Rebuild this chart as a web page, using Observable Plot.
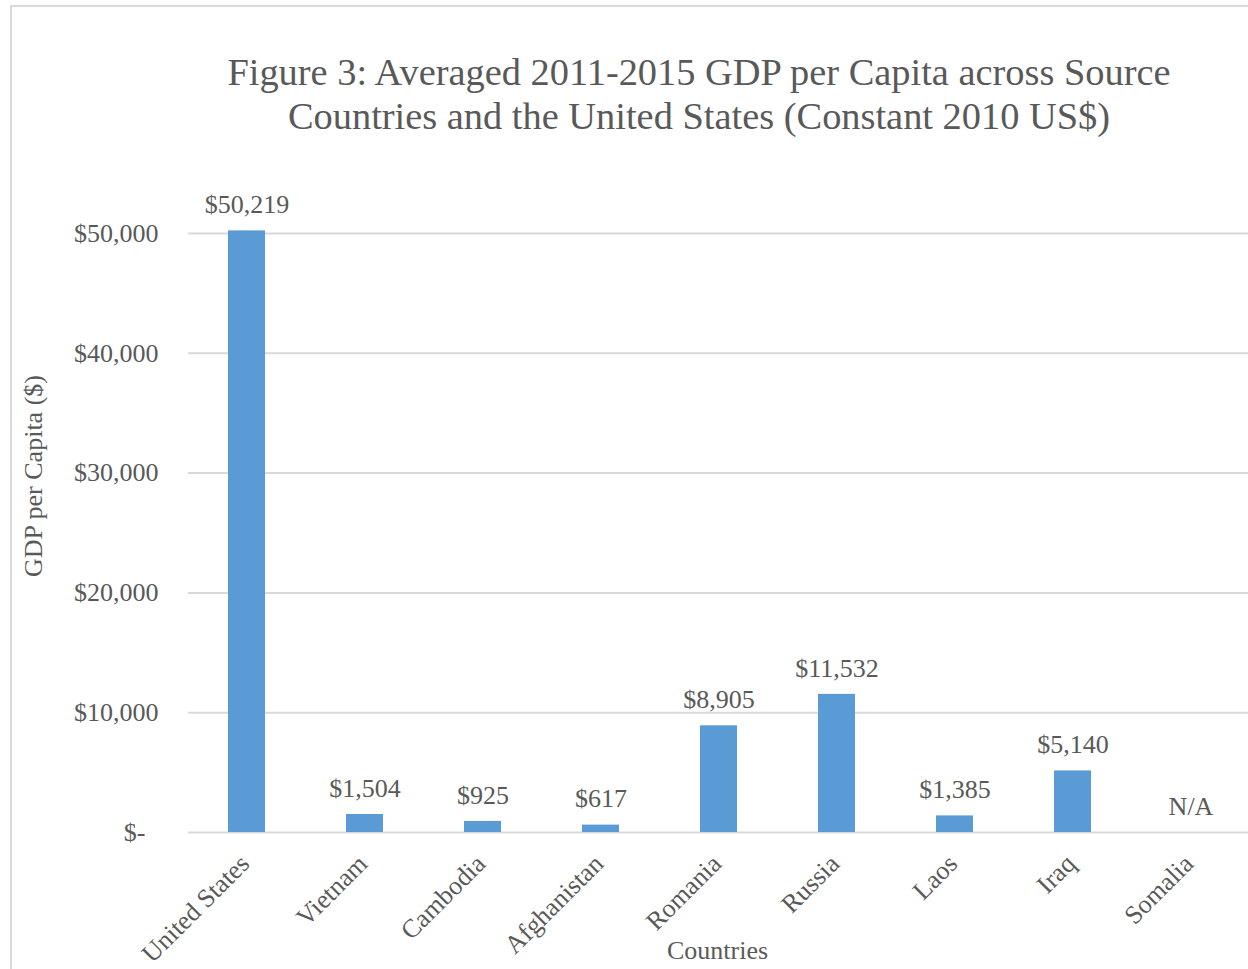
<!DOCTYPE html>
<html>
<head>
<meta charset="utf-8">
<script src="https://cdn.jsdelivr.net/npm/d3@7"></script>
<script src="https://cdn.jsdelivr.net/npm/@observablehq/plot@0.6"></script>
<style>
  html, body { margin: 0; padding: 0; background: #fff; }
  #wrap { position: relative; width: 1248px; height: 969px; overflow: hidden; font-family: "Liberation Serif", "Times New Roman", serif; }
  #border { position: absolute; left: 10px; top: 5px; width: 1300px; height: 1000px; border: 2px solid #d9d9d9; box-sizing: border-box; }
  #title { position: absolute; left: 0; top: 50px; width: 1398px; text-align: center; font-size: 38.4px; line-height: 44px; color: #595959; }
  #chart { position: absolute; left: 0; top: 0; }
</style>
</head>
<body>
<div id="wrap">
  <div id="border"></div>
  <div id="chart"></div>
  <div id="title">Figure 3: Averaged 2011-2015 GDP per Capita across Source<br>Countries and the United States (Constant 2010 US$)</div>
</div>
<script>
const countries = ["United States", "Vietnam", "Cambodia", "Afghanistan", "Romania", "Russia", "Laos", "Iraq", "Somalia"];
const gdp = [50219, 1504, 925, 617, 8905, 11532, 1385, 5140, null];
const yTicks = [0, 10000, 20000, 30000, 40000, 50000];

const fmt = d3.format(",");
const data = countries.map((c, i) => ({
  country: c,
  value: gdp[i],
  label: gdp[i] == null ? "N/A" : "$" + fmt(gdp[i])
}));

const textColor = "#595959";
const fontFamily = "Liberation Serif, Times New Roman, serif";

const chart = Plot.plot({
  width: 1248,
  height: 969,
  marginLeft: 188,
  marginRight: -2,
  marginTop: 233,
  marginBottom: 137,
  style: { fontFamily, fontSize: "26px", color: textColor, background: "transparent" },
  x: { domain: countries, paddingInner: 0.686, paddingOuter: 0.343, align: 0.5 },
  y: { domain: [0, 50000] },
  marks: [
    Plot.gridY(yTicks, { stroke: "#d9d9d9", strokeOpacity: 1, strokeWidth: 2 }),
    Plot.barY(data.filter(d => d.value != null), { x: "country", y: "value", fill: "#5b9bd5" }),
    Plot.text(data, { x: "country", y: d => d.value ?? 0, text: "label", dy: -26, fill: textColor, fontSize: 26 }),
    Plot.axisY({ ticks: yTicks, tickSize: 0, tickPadding: 30, label: null, fontSize: 26,
      tickFormat: d => d === 0 ? "$-\u00a0\u00a0" : "$" + fmt(d) }),
    Plot.axisX({ tickSize: 0, tickPadding: 27, dx: -2, tickRotate: -45, label: null, fontSize: 26 }),
    Plot.text(["Countries"], { frameAnchor: "bottom", dx: -2, dy: 126, fill: textColor, fontSize: 26 }),
    Plot.text(["GDP per Capita ($)"], { frameAnchor: "left", textAnchor: "middle", rotate: -90, dx: -155, dy: -57, fill: textColor, fontSize: 26 })
  ]
});
document.getElementById("chart").appendChild(chart);
</script>
</body>
</html>
